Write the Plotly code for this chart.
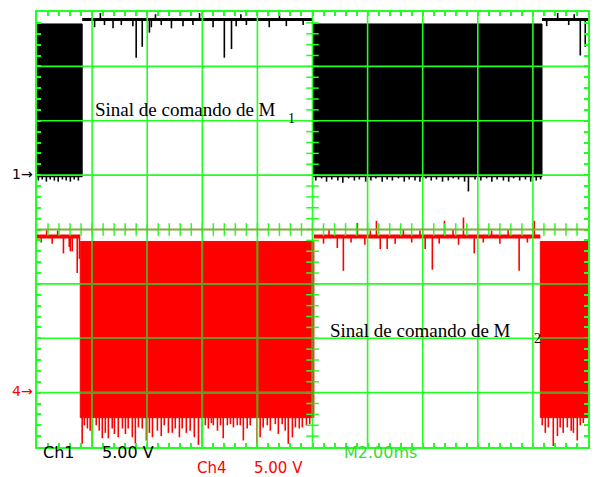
import plotly.graph_objects as go

# ---------------- data (oscilloscope capture: 2 ms/div, 5 V/div) ----------------
ms_per_div = 2.0
volts_per_div = 5.0
x_divs = 10
y_divs = 8

ch1_offset_div = 1.0      # ground marker "1->"
ch4_offset_div = -2.98    # ground marker "4->"

ch1_edges_ms = [0.0, 1.64, 10.0, 18.33, 20.0]
ch1_states = ["pwm", "high", "pwm", "high"]
ch4_edges_ms = [0.0, 1.57, 10.05, 18.27, 20.0]
ch4_states = ["high", "pwm", "high", "pwm"]

ch1_high_v = 14.3
ch1_pwm_top_v = 13.9
ch1_pwm_floor_v = -0.15
ch4_high_v = 14.25
ch4_pwm_top_v = 13.8
ch4_pwm_floor_v = -2.4

# Ch1: spikes below the PWM floor
ch1_low_t = [0.05, 0.19, 0.34, 0.48, 0.63, 0.77, 0.92, 1.06, 1.21, 1.35, 1.50,
             10.12, 10.33, 10.51, 10.70, 10.92, 11.10, 11.31, 11.52, 11.70, 11.93,
             12.12, 12.30, 12.53, 12.71, 12.90, 13.12, 13.33, 13.51, 13.72, 13.90,
             14.12, 14.31, 14.50, 14.72, 14.93, 15.11, 15.30, 15.52, 15.66, 15.90,
             16.11, 16.32, 16.51, 16.70, 16.93, 17.12, 17.30, 17.52, 17.73, 17.92,
             18.12, 18.28]
ch1_low_v = [-0.5, -0.4, -0.6, -0.4, -0.5, -0.6, -0.4, -0.5, -0.6, -0.4, -0.5,
             -0.5, -0.3, -0.6, -0.4, -0.5, -0.7, -0.3, -0.5, -0.4, -0.6,
             -0.5, -0.3, -0.6, -0.4, -0.5, -0.3, -0.6, -0.4, -0.5, -0.6,
             -0.3, -0.5, -0.4, -0.6, -0.5, -0.3, -0.4, -0.6, -1.5, -0.4,
             -0.5, -0.3, -0.6, -0.4, -0.5, -0.6, -0.3, -0.5, -0.4, -0.6,
             -0.5, -0.4]

# Ch1: glitches on the high level
ch1_high_t = [2.09, 2.30, 2.45, 2.76, 3.06, 3.48, 3.60, 3.82, 4.08, 4.15, 4.30, 4.51,
              4.88, 5.30, 5.66, 5.90, 6.39, 6.80, 7.06, 7.23, 7.40, 7.60, 8.43, 8.80,
              9.05, 9.66, 18.50, 18.90, 19.30, 19.50, 19.72, 19.90]
ch1_high_spk = [13.6, 14.9, 13.8, 13.5, 13.8, 13.7, 10.8, 11.8, 13.1, 13.6, 14.8, 13.8,
                13.5, 13.7, 13.8, 14.9, 13.6, 10.8, 11.6, 13.7, 14.8, 13.8, 13.6, 14.9,
                13.7, 13.8, 13.7, 14.9, 13.8, 14.8, 11.0, 11.8]

# Ch4: spikes below the PWM floor
ch4_low_t = [1.64, 1.72, 1.83, 1.93, 2.01, 2.15, 2.26, 2.37, 2.48, 2.59, 2.73, 2.81,
             2.95, 3.10, 3.21, 3.31, 3.46, 3.57, 3.68, 3.82, 3.97, 4.08, 4.19, 4.37,
             4.51, 4.62, 4.77, 4.91, 5.02, 5.17, 5.27, 5.42, 5.56, 5.71, 5.86, 6.00,
             6.11, 6.22, 6.33, 6.40, 6.55, 6.66, 6.76, 6.91, 7.02, 7.13, 7.27, 7.38,
             7.49, 7.63, 7.74, 7.99, 8.10, 8.21, 8.36, 8.47, 8.65, 8.76, 8.90, 9.01,
             9.12, 9.27, 9.38, 9.52, 9.63, 9.78, 9.90,
             18.34, 18.45, 18.56, 18.74, 18.89, 18.99, 19.10, 19.25, 19.39, 19.47,
             19.61, 19.72, 19.83]
ch4_low_v = [-4.8, -3.1, -3.4, -3.6, -4.8, -3.1, -3.6, -4.3, -3.8, -4.3, -3.4, -3.9,
             -4.2, -3.4, -3.9, -3.4, -4.2, -4.8, -3.3, -3.4, -4.5, -3.8, -4.2, -3.6,
             -4.1, -3.1, -3.8, -3.8, -3.4, -4.2, -3.4, -3.8, -3.6, -4.2, -4.9, -5.0,
             -3.1, -3.4, -2.9, -3.1, -3.6, -3.1, -4.3, -3.1, -3.0, -3.3, -3.1, -3.1,
             -4.5, -3.4, -3.1, -5.0, -4.2, -3.3, -3.1, -3.6, -3.0, -3.9, -3.0, -3.6,
             -4.8, -4.2, -3.3, -3.4, -3.3, -3.1, -3.0,
             -3.1, -3.8, -3.3, -5.0, -4.1, -3.3, -3.8, -3.3, -3.6, -3.8,
             -4.5, -3.1, -2.9]

# Ch4: glitches on the high level
ch4_high_t = [0.15, 0.35, 0.55, 0.75, 0.96, 1.17, 1.21, 1.28, 1.46, 1.54,
              10.40, 10.60, 10.90, 11.12, 11.40, 11.63, 11.90, 12.10, 12.32, 12.46,
              12.71, 13.00, 13.30, 13.60, 13.90, 14.09, 14.35, 14.60, 14.79, 15.10,
              15.30, 15.48, 15.87, 16.20, 16.50, 16.80, 17.10, 17.50, 17.80, 18.05]
ch4_high_spk = [13.7, 14.9, 13.6, 14.8, 12.7, 13.3, 12.9, 12.9, 10.9, 12.2,
                13.6, 14.9, 13.2, 11.1, 13.7, 15.5, 13.5, 14.8, 15.7, 13.1,
                13.1, 13.6, 14.9, 13.7, 14.8, 13.1, 11.2, 13.6, 15.7, 14.9,
                13.5, 16.0, 12.7, 13.7, 14.8, 13.6, 14.9, 11.1, 13.7, 15.7]

# ---------------- styling ----------------
GREEN = "#22ff22"
OLIVE_CENTER = "#7fae3a"
OLIVE_ON_RED = "#6e9422"
BLACK = "#000000"
RED = "#ff0000"

t_max = ms_per_div * x_divs


def scr(v, offset):
    return offset + v / volts_per_div


fig = go.Figure()


def add_channel(edges, states, color, offset, high_v, top_v, floor_v,
                low_t, low_v, high_t, high_spk, hi_width):
    for (t0, t1), st in zip(zip(edges[:-1], edges[1:]), states):
        if st == "pwm":
            yt, yb = scr(top_v, offset), scr(floor_v, offset)
            fig.add_trace(go.Scatter(x=[t0, t1, t1, t0, t0], y=[yt, yt, yb, yb, yt],
                                     mode="lines", fill="toself", fillcolor=color,
                                     line=dict(color=color, width=1),
                                     hoverinfo="skip", showlegend=False))
        else:
            yh = scr(high_v, offset)
            fig.add_trace(go.Scatter(x=[t0, t1], y=[yh, yh], mode="lines",
                                     line=dict(color=color, width=hi_width),
                                     hoverinfo="skip", showlegend=False))
    xs, ys = [], []
    for t, v in zip(low_t, low_v):
        xs += [t, t, None]
        ys += [scr(floor_v, offset), scr(v, offset), None]
    fig.add_trace(go.Scatter(x=xs, y=ys, mode="lines", line=dict(color=color, width=1.6),
                             hoverinfo="skip", showlegend=False))
    xs, ys = [], []
    for t, v in zip(high_t, high_spk):
        xs += [t, t, None]
        ys += [scr(high_v, offset), scr(v, offset), None]
    fig.add_trace(go.Scatter(x=xs, y=ys, mode="lines", line=dict(color=color, width=1.6),
                             hoverinfo="skip", showlegend=False))


add_channel(ch1_edges_ms, ch1_states, BLACK, ch1_offset_div, ch1_high_v, ch1_pwm_top_v,
            ch1_pwm_floor_v, ch1_low_t, ch1_low_v, ch1_high_t, ch1_high_spk, 3)
add_channel(ch4_edges_ms, ch4_states, RED, ch4_offset_div, ch4_high_v, ch4_pwm_top_v,
            ch4_pwm_floor_v, ch4_low_t, ch4_low_v, ch4_high_t, ch4_high_spk, 4)

# graticule
shapes = []
for i in range(1, x_divs):
    x = i * ms_per_div
    shapes.append(dict(type="line", x0=x, x1=x, y0=-y_divs / 2, y1=y_divs / 2, xref="x", yref="y",
                       line=dict(color=GREEN, width=1.6), layer="above"))
for j in range(1, y_divs):
    y = j - y_divs / 2
    col = OLIVE_CENTER if y == 0 else GREEN
    shapes.append(dict(type="line", x0=0, x1=t_max, y0=y, y1=y, xref="x", yref="y",
                       line=dict(color=col, width=2 if y == 0 else 1.6), layer="above"))
# graticule tinted where it crosses the red PWM band
for (t0, t1), st in zip(zip(ch4_edges_ms[:-1], ch4_edges_ms[1:]), ch4_states):
    if st != "pwm":
        continue
    yt, yb = scr(ch4_pwm_top_v, ch4_offset_div), scr(ch4_pwm_floor_v, ch4_offset_div)
    for i in range(1, x_divs):
        x = i * ms_per_div
        if t0 < x < t1:
            shapes.append(dict(type="line", x0=x, x1=x, y0=yb, y1=yt, xref="x", yref="y",
                               line=dict(color=OLIVE_ON_RED, width=1.6), layer="above"))
    for j in range(1, y_divs):
        y = j - y_divs / 2
        if yb < y < yt:
            shapes.append(dict(type="line", x0=t0, x1=t1, y0=y, y1=y, xref="x", yref="y",
                               line=dict(color=OLIVE_ON_RED, width=1.6), layer="above"))

# minor ticks on centre lines
minor_x = [k * ms_per_div / 5 for k in range(1, x_divs * 5)]
minor_y = [k / 5 - y_divs / 2 for k in range(1, y_divs * 5)]
fig.add_trace(go.Scatter(x=minor_x, y=[0] * len(minor_x), mode="markers",
                         marker=dict(symbol="line-ns", size=9, line=dict(color=GREEN, width=1.5)),
                         hoverinfo="skip", showlegend=False))
fig.add_trace(go.Scatter(x=[t_max / 2] * len(minor_y), y=minor_y, mode="markers",
                         marker=dict(symbol="line-ew", size=9, line=dict(color=GREEN, width=1.5)),
                         hoverinfo="skip", showlegend=False))

W, H = 600, 477
L, R, T, B = 37, 12, 10, 30
pw, ph = W - L - R, H - T - B


def px(xp):
    return (xp - L) / pw


def py(yp):
    return (H - B - yp) / ph


serif = "Liberation Serif"
sans = "DejaVu Sans"
ann = [
    dict(text="Sinal de comando de M", x=px(93), y=py(108), xanchor="left", yanchor="middle",
         font=dict(family=serif, size=19, color=BLACK)),
    dict(text="1", x=px(291), y=py(117), xanchor="center", yanchor="middle",
         font=dict(family=serif, size=14, color=BLACK)),
    dict(text="Sinal de comando de M", x=px(328), y=py(330), xanchor="left", yanchor="middle",
         font=dict(family=serif, size=19, color=BLACK)),
    dict(text="2", x=px(537), y=py(338), xanchor="center", yanchor="middle",
         font=dict(family=serif, size=14, color=BLACK)),
    dict(text="1→", x=px(35), y=py(173), xanchor="right", yanchor="middle",
         font=dict(family=sans, size=14, color=BLACK)),
    dict(text="4→", x=px(35), y=py(391), xanchor="right", yanchor="middle",
         font=dict(family=sans, size=14, color=RED)),
    dict(text="Ch1", x=px(41), y=py(453), xanchor="left", yanchor="middle",
         font=dict(family=sans, size=16, color=BLACK)),
    dict(text="5.00 V", x=px(100), y=py(453), xanchor="left", yanchor="middle",
         font=dict(family=sans, size=16, color=BLACK)),
    dict(text="Ch4", x=px(195), y=py(468), xanchor="left", yanchor="middle",
         font=dict(family=sans, size=15, color=RED)),
    dict(text="5.00 V", x=px(252), y=py(468), xanchor="left", yanchor="middle",
         font=dict(family=sans, size=15, color=RED)),
    dict(text="M2.00ms", x=px(342), y=py(453), xanchor="left", yanchor="middle",
         font=dict(family=sans, size=16, color="#33dd33")),
]
for a in ann:
    a.update(xref="paper", yref="paper", showarrow=False)

axis_common = dict(showgrid=False, zeroline=False, showline=True, linecolor=GREEN, linewidth=2,
                   mirror="ticks", ticks="inside", ticklen=4, tickwidth=1.5, tickcolor=GREEN,
                   showticklabels=False, layer="above traces", fixedrange=True)
fig.update_layout(
    width=W, height=H, margin=dict(l=L, r=R, t=T, b=B),
    paper_bgcolor="white", plot_bgcolor="white",
    xaxis=dict(range=[0, t_max], tick0=0, dtick=ms_per_div / 5, **axis_common),
    yaxis=dict(range=[-y_divs / 2, y_divs / 2], tick0=0, dtick=0.2, **axis_common),
    shapes=shapes, annotations=ann, showlegend=False,
)
fig.write_html("out.html", config={"displayModeBar": False},
               post_script="document.body.style.margin='0';document.body.style.overflow='hidden';")
